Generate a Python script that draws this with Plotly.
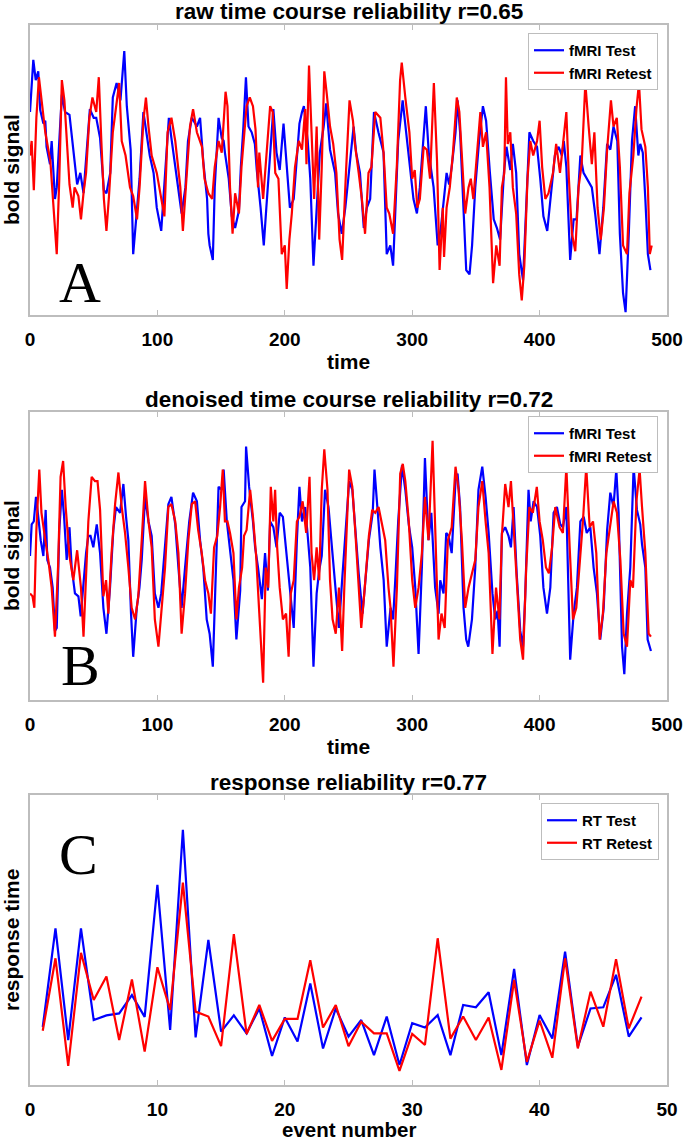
import plotly.graph_objects as go

# ---------------- Panel A: raw time course (values in arbitrary units, 0-100) ----------------
a_test_t = [0, 2.6, 4.5, 6.5, 8, 10.5, 12, 13, 15.7, 17, 19.6, 21, 25, 27.5, 31, 33, 35, 37, 39.5, 42, 44.5, 47, 50, 52, 55,
            58, 60, 63, 65, 68, 71, 74, 76, 79, 81, 84, 86, 89, 92, 94, 97, 99.5, 103, 106, 109, 111, 114, 116.5, 119,
            122, 124, 127, 131, 133.5, 136, 139, 140, 141, 143.5, 145, 148, 150.5, 152, 153, 156, 158.4, 161, 164, 165.5,
            167.5, 169.5, 171.5, 174, 176.5, 178, 181, 183.5, 185.5, 188.5, 191, 193.5, 196, 199, 201.5, 204, 207, 209.5,
            211.5, 213.5, 215, 218, 220, 222.5, 225, 227.5, 230.5, 232.5, 235.5, 239.5, 241.8, 244.7, 247.5, 251, 254,
            256, 259, 262, 264.4, 267, 270, 273.5, 277.5, 280, 282.8, 285, 286.7, 289, 292.5, 295.8, 298.3, 301, 303.7,
            306, 310.7, 313, 316.8, 320, 322.5, 325, 327, 329, 331, 334, 335.6, 337.6, 340, 342.4, 345, 347, 349.5, 352.5,
            355.5, 358, 361, 364, 366.5, 369, 372, 374, 377, 379, 381.6, 384, 387, 389.5, 392, 395, 398, 400.5, 403, 406,
            409.5, 412, 414.9, 417.5, 419, 421, 424, 426.7, 429, 432, 434.5, 437, 441, 443.6, 447, 450, 453, 455.5, 458,
            461, 463, 465.5, 467.5, 470, 472.5, 475, 477.5, 479, 481, 483, 485, 487]
a_test_v = [70, 88, 81, 84, 70.7, 66, 67, 58, 52, 60, 40, 44, 76, 70, 69, 60, 53, 45, 49, 42, 57, 71, 68, 68, 61,
            43, 42, 49, 75, 80, 74, 91, 72, 57, 21, 35, 47, 70, 60, 55, 49, 37, 29, 48, 68, 61, 51, 44, 35,
            44, 60, 68, 65, 68, 53, 40, 28, 24, 19, 44, 68, 61, 60, 56, 47, 34, 30, 36, 51,
            65, 82, 65, 63, 59, 50, 37, 24, 37, 55, 71, 56, 50, 66, 51, 37, 40, 55,
            66, 70, 72, 60, 47, 17, 35, 56, 65, 73, 57, 49, 35, 28, 37, 53, 65,
            56, 49, 30, 37, 40, 70, 63, 56, 21, 24, 17, 37, 60, 74, 60, 50, 40, 35,
            44, 72, 56, 44, 24, 30, 42, 49, 45, 51, 63, 74, 63, 40, 15.5, 14, 24, 44, 60,
            72, 67, 49, 33, 30, 26, 49, 58, 50, 59, 49, 21, 12, 37, 63, 60, 58, 47, 34, 29,
            44, 55, 58, 55, 60, 51, 19, 33, 33, 55, 49, 47, 44, 35, 21, 37, 59, 57, 65,
            60, 28, 7.5, 1, 28, 60, 72, 55, 59, 56, 40, 21, 15.5]

a_retest_t = [0, 1.3, 3, 5, 7, 9, 12, 16, 18, 21, 23, 25, 27, 29, 31, 33.5, 35, 38, 40, 42, 44, 46.6, 49, 52, 54, 56, 58,
              60, 62, 65, 68, 70, 72, 75, 78.5, 81, 84, 86, 89, 91, 93, 95.5, 99.5, 103, 105.5, 108, 111, 114, 118, 120,
              123, 125.6, 128, 131, 135, 137, 140, 143, 145, 148, 150.5, 152, 153.5, 155, 157, 159, 161, 164, 166, 170,
              172.5, 175, 177, 179, 180, 183, 186, 188.5, 190.5, 192.5, 195, 197.6, 200, 201.5, 203.6, 205.5, 208, 211,
              213.5, 216, 217, 219, 221, 223, 225, 227, 229, 231, 233, 235.5, 238, 240.5, 243, 245, 248, 250.8, 253.5,
              255, 258, 260.5, 263, 265.7, 268, 271, 275, 277.5, 280, 282, 285, 288, 290.5, 291.8, 294.6, 297.8, 300,
              302, 304, 306, 309, 311.5, 314, 317, 319.5, 321.5, 324, 325, 327, 329.5, 332, 335, 337, 340, 341.6, 344.2,
              346, 348, 351, 353.5, 355.5, 358, 360.7, 363.5, 366, 368.6, 370.4, 372.3, 373.6, 375, 377, 379, 381.6, 384,
              386, 388, 390.5, 392.7, 395, 398, 400, 402, 404.5, 407, 410.5, 413, 416, 418.9, 421, 423, 425.4, 428,
              430.6, 433, 435.9, 438.5, 441, 443, 445.5, 448, 450.5, 453, 456, 458, 460.6, 463, 465.5, 468.6, 470.5,
              473.6, 476, 478, 480, 483, 485, 486.5, 488]
a_retest_v = [55, 60, 43, 68, 82, 74, 63, 53, 40, 21, 47, 81, 74, 60, 45, 37, 44, 41, 33, 42, 49, 68, 75, 70, 82, 60, 40,
              29, 41, 63, 74, 80, 60, 55, 44, 41, 33, 44, 67, 75, 65, 55, 49, 40, 34, 63, 68, 60, 44, 29,
              47, 65, 71, 63, 58, 47, 42, 40, 51, 60, 56, 67, 77, 72, 44, 28, 42, 35, 51, 72,
              75, 72, 64, 44, 56, 40, 58, 72, 70, 49, 47, 21, 24, 9, 26, 35, 51, 60,
              57, 71, 52, 86, 63, 40, 65, 26, 51, 84, 76, 65, 59, 49, 26, 19, 49, 74, 67,
              59, 49, 40, 28, 49, 51, 70, 68, 56, 37, 35, 28, 52, 81, 87, 75, 63, 47,
              50, 37, 40, 58, 57, 47, 80, 53, 15.5, 37, 20, 37, 44, 56, 75, 70, 45, 35, 44,
              47, 40, 56, 70, 58, 63, 44, 11, 24, 17, 44, 49, 82, 59, 63, 44, 35, 14,
              5, 17, 47, 60, 55, 60, 67, 51, 40, 42, 49, 59, 49, 60, 70, 47, 28, 22,
              44, 52, 80, 65, 52, 63, 37, 26, 37, 57, 74, 65, 68, 51, 24, 21, 42,
              55, 71, 80, 64, 58, 44, 21, 24]

# ---------------- Panel B: denoised time course ----------------
b_test_t = [0, 1.3, 3, 4.7, 6.5, 8.4, 10.5, 12.3, 13.6, 15.7, 17.8, 19.6, 21, 23, 25, 26.7, 28.8, 31, 32.7, 35.3, 38, 39.8,
            42, 44, 45.8, 47.5, 49.7, 52.4, 55, 57.6, 60, 62.8, 65.4, 67.5, 70.7, 73.3, 75.4, 77.2, 79.3, 81, 83.8, 85.9,
            87.7, 90.3, 93, 95.5, 98, 100.8, 103, 106, 108.6, 111, 114, 116.5, 119, 121.7, 125, 128, 131, 133.5, 136,
            138.7, 141, 143.5, 146, 148, 150.5, 152, 154.5, 157, 159.7, 162, 165, 166, 168.8, 169.6, 172, 175, 176.7,
            179, 182, 184.5, 186.7, 188.5, 191, 193.5, 196, 198.5, 201.5, 204, 207, 209.5, 211.5, 213.5, 216, 218, 220,
            222.5, 225, 227, 229, 231.6, 234.3, 237, 240, 242.5, 245, 247.8, 250.5, 253, 255.4, 258, 261, 263.6, 266,
            269, 270.4, 273, 275, 277.6, 280, 283, 285, 286.7, 289, 292, 294.6, 297.3, 300, 302.4, 305, 307.6, 310,
            312.8, 315, 318, 320.7, 322, 324.6, 326.7, 328.5, 331, 334, 335.6, 337.6, 340.3, 342.4, 344, 346.9, 349.5,
            352, 355, 357.6, 360, 363, 365.2, 367, 368.6, 370.4, 373, 375.6, 377.5, 379.6, 382, 384.8, 387, 388.7,
            391.3, 393, 395.3, 398, 400.5, 403, 405.8, 408.4, 411, 413.6, 416.2, 418.3, 421, 424, 426.7, 429.3, 432,
            434.6, 437, 439.8, 442.4, 445, 447.6, 450.3, 453, 455.5, 458, 460.2, 462, 464.7, 466.5, 468.6, 471.2,
            473.8, 476.4, 479, 480.4, 483, 484.8, 487.4]
b_test_v = [50, 61, 62, 70.5, 63.6, 55.5, 50, 66, 48.6, 46, 39, 24, 25, 59, 73, 64, 48.6, 60, 46, 37, 36, 29,
            40.5, 51, 57, 57, 53, 61, 51, 32, 23, 39, 59, 67, 65, 75, 63.6, 55.5, 30, 15, 32, 39,
            48.6, 70.5, 62, 57, 37, 32, 37, 55.5, 68, 70.5, 61, 46, 32, 46, 62, 72, 69, 55.5, 46,
            28, 23, 11.6, 46, 74, 73, 80, 62, 53, 41.6, 21, 38, 67, 69, 88, 74, 62, 53,
            46, 35, 51, 38, 62, 60, 53, 65, 63.6, 50, 37, 25, 55.5, 74, 62, 67, 57, 46,
            11.6, 37, 45, 50, 73, 67, 53, 37, 25, 41.6, 59, 76, 73, 58, 44, 30, 43, 55.5,
            65, 80, 65, 53, 41.6, 18.5, 32, 28, 41.6, 62, 81.5, 73, 61, 53, 39, 16, 46, 84,
            55.5, 65, 39, 30, 41.6, 37, 58, 57, 51, 76, 78.6, 67, 32, 21, 18.5, 28, 46,
            73, 81, 70.5, 58, 37, 28, 31, 18.5, 58, 60, 57, 53, 67, 44, 24, 18.5, 36,
            73, 62, 69, 67, 57, 39, 30, 39, 65, 67, 61, 60, 67, 14, 30, 39, 62,
            63.6, 58, 60, 46, 37, 21, 32, 59, 72, 67, 80, 65, 18.5, 9, 30, 46,
            81, 66, 61, 54, 46, 21, 17]

b_retest_t = [0, 2, 3.4, 5, 7.3, 9, 12, 14.4, 17, 19.6, 22, 24, 26, 28, 31, 34, 37, 40, 42, 44, 45.8, 48.4, 51, 53, 55,
              57.6, 59.7, 61.5, 64, 66.8, 69.4, 72, 74.6, 77.2, 79.8, 82.5, 85, 87.7, 90.3, 93, 95.5, 98, 100.8, 103,
              106, 108.6, 111, 114, 116.5, 119, 121.7, 124.3, 127, 129.6, 132, 134.8, 137.4, 140, 142, 144.5, 147,
              149.2, 151.3, 153, 155, 157, 159.7, 162, 164, 166.5, 168, 170, 172.8, 175, 177.5, 180, 183, 185, 187,
              189, 191, 192.4, 194, 196, 198.5, 201, 203, 204.7, 207, 209.5, 211.5, 214, 216.8, 219.4, 221, 223, 225,
              227, 229, 231, 233.5, 235.5, 237.5, 240, 242.5, 245, 246.7, 250.5, 253, 255.4, 258, 260, 262.4, 266,
              268.6, 271, 273.6, 276, 278.8, 281.4, 283, 285.3, 288, 290.6, 292.6, 294.6, 297.3, 300, 302.4, 305,
              307.6, 310, 312.8, 316, 318, 320.7, 323, 325.5, 328, 331, 334, 336.4, 339, 341.6, 344.2, 346.9, 349.5,
              352, 355, 357.6, 360, 363, 365.8, 368.4, 370.4, 373, 375.6, 377.5, 379.6, 382, 384.8, 387, 389.5, 392,
              394.7, 397.8, 400, 402.5, 405, 407.3, 409.8, 412.3, 415.7, 418.3, 421, 423.6, 426.2, 428.8, 431.4, 434,
              436.6, 439.3, 441.9, 444.5, 447.1, 449.7, 452.4, 455, 458.1, 460.7, 463.4, 466, 468.6, 471.2, 473.3,
              476, 478.5, 480.4, 483, 485.6, 487.4]
b_retest_v = [37, 36, 32, 59, 80, 65, 55.5, 48.6, 39, 22, 46, 77.5, 83, 67, 50, 41.6, 52, 39, 22, 41.6, 62, 77.5, 76, 76, 66,
              36, 41.6, 30, 51, 68, 79, 67, 58, 46, 32, 28, 36, 55.5, 76, 62, 53, 28, 18.5, 30,
              46, 67, 68, 62, 51, 23, 37, 55.5, 68, 69, 59, 51, 41.6, 37, 30, 53, 57,
              67, 80, 62, 62, 58, 51, 28, 39, 46, 57, 59, 73, 63.6, 50, 30, 6, 46, 39,
              74, 62, 73, 53, 39, 28, 30, 15, 37, 41.6, 62, 63.6, 69, 58, 77.5, 51, 41.6, 53,
              41.6, 73, 87, 73, 41.6, 28, 23, 39, 17, 39, 80, 74, 58, 39, 25, 37, 57,
              66, 65, 67, 62, 55.5, 39, 32, 11.6, 39, 78.6, 82, 76, 62, 41.6, 32, 39,
              51, 70.5, 55.5, 90, 59, 21, 30, 25, 55.5, 60, 81, 73, 55.5, 32, 39, 44, 48.6,
              67, 76, 62, 51, 16, 39, 28, 57, 75, 67, 76, 60, 39, 21, 14, 46, 67,
              65, 74, 62, 55.5, 46, 44, 53, 67, 60, 58, 81, 53, 28, 32, 46, 62,
              81, 60, 62, 51, 21, 30, 51, 60, 69, 65, 48.6, 23, 18.5, 41.6, 39,
              69, 80, 67, 51, 23, 22]

# ---------------- Panel C: response times ----------------
event_number = list(range(1, 49))
rt_test = [20, 54, 15.5, 54, 22.4, 24, 24.7, 31, 23.5, 69, 19, 88, 16.4, 50, 18.4, 24, 17.8, 26.4, 10, 23.3, 15, 35, 12.6,
           26.4, 16.7, 22.4, 10.3, 23.6, 6.9, 21.3, 19.8, 24.1, 10.3, 27.6, 26.8, 32, 10.3, 40, 6.9, 24.1, 16, 46, 13.2,
           26.4, 26.8, 38, 16.7, 23.3]
rt_retest = [18.7, 43.7, 6.6, 45.6, 29.3, 37.4, 15.5, 36.4, 11.5, 40.6, 25.9, 69.8, 25.3, 23.6, 13.4, 52, 17.6, 27.6, 15.2,
             22.8, 22.8, 43, 19.8, 27.6, 13.4, 21.8, 17.8, 17.8, 4.9, 17.6, 13.8, 50.6, 16, 23.6, 15.5, 23.3, 5.2, 36.2, 8,
             22.2, 9.4, 43.7, 12.6, 32.2, 20.1, 43.4, 19.5, 30.5]

titles = ["raw time course reliability r=0.65", "denoised time course reliability r=0.72", "response reliability r=0.77"]
x_titles = ["time", "time", "event number"]
y_titles = ["bold signal", "bold signal", "response time"]
letters = ["A", "B", "C"]
legend_names = [["fMRI Test", "fMRI Retest"], ["fMRI Test", "fMRI Retest"], ["RT Test", "RT Retest"]]
x_ticks = [[0, 100, 200, 300, 400, 500], [0, 100, 200, 300, 400, 500], [0, 10, 20, 30, 40, 50]]

BLUE = "#0000ff"
RED = "#ff0000"
FRAME = "#bdbdbd"
SANS = "Liberation Sans, Arial, sans-serif"

W, H = 685, 1143
ML, MR, MT, MB = 30, 18, 25, 58
# pixel boxes (top, bottom) for each panel
panel_px = [(25, 315), (412, 700), (795, 1085)]
ph = H - MT - MB


def py(p):
    return (H - MB - p) / ph


fig = go.Figure()
series = [
    (a_test_t, a_test_v, a_retest_t, a_retest_v),
    (b_test_t, b_test_v, b_retest_t, b_retest_v),
    (event_number, rt_test, event_number, rt_retest),
]
legend_ids = ["legend", "legend2", "legend3"]
for i, (tx, tv, rx, rv) in enumerate(series):
    ax = "" if i == 0 else str(i + 1)
    fig.add_trace(go.Scatter(x=tx, y=tv, mode="lines", name=legend_names[i][0],
                             line=dict(color=BLUE, width=2.2), xaxis="x" + ax, yaxis="y" + ax,
                             legend=legend_ids[i]))
    fig.add_trace(go.Scatter(x=rx, y=rv, mode="lines", name=legend_names[i][1],
                             line=dict(color=RED, width=2.2), xaxis="x" + ax, yaxis="y" + ax,
                             legend=legend_ids[i]))

layout = dict(width=W, height=H, margin=dict(l=ML, r=MR, t=MT, b=MB, autoexpand=False),
              paper_bgcolor="white", plot_bgcolor="white", showlegend=True,
              font=dict(family=SANS, color="black"))

annotations = []
legend_right = [658, 658, 659]
legend_top = [33, 416, 803]
for i in range(3):
    ax = "" if i == 0 else str(i + 1)
    top, bot = panel_px[i]
    rng = [0, 500] if i < 2 else [0, 50]
    layout["xaxis" + ax] = dict(range=rng, domain=[0, 1], anchor="y" + ax, showgrid=False, zeroline=False,
                                showline=True, linecolor=FRAME, linewidth=1.5, mirror="ticks",
                                ticks="inside", ticklen=5, tickcolor=FRAME, tickwidth=1.2,
                                tickvals=x_ticks[i], ticktext=[str(v) for v in x_ticks[i]],
                                tickfont=dict(family=SANS, size=19, color="black", weight="bold"),
                                ticklabelstandoff=6, automargin=False)
    layout["yaxis" + ax] = dict(range=[0, 100], domain=[py(bot), py(top)], anchor="x" + ax, showgrid=False,
                                zeroline=False, showline=True, linecolor=FRAME, linewidth=1.5, mirror=True,
                                ticks="", showticklabels=False, automargin=False)
    layout[legend_ids[i]] = dict(x=(legend_right[i] - ML) / (W - ML - MR), xanchor="right",
                                 y=py(legend_top[i]), yanchor="top", bgcolor="white",
                                 bordercolor=FRAME, borderwidth=1, itemwidth=30,
                                 font=dict(family=SANS, size=15, color="black", weight="bold"),
                                 tracegroupgap=0)
    # panel title
    annotations.append(dict(text=titles[i], xref="paper", yref="paper", x=0.5, y=py(top - 13),
                            xanchor="center", yanchor="middle", showarrow=False,
                            font=dict(family=SANS, size=22.5, color="black", weight="bold")))
    # x-axis title
    annotations.append(dict(text=x_titles[i], xref="paper", yref="paper", x=0.5,
                            y=py(bot + (46 if i < 2 else 44)),
                            xanchor="center", yanchor="middle", showarrow=False,
                            font=dict(family=SANS, size=21 if i < 2 else 20.5, color="black", weight="bold")))
    # y-axis title
    annotations.append(dict(text=y_titles[i], xref="paper", yref="paper", x=(11 - ML) / (W - ML - MR),
                            y=py((top + bot) / 2), xanchor="center", yanchor="middle", showarrow=False,
                            textangle=-90,
                            font=dict(family=SANS, size=21, color="black", weight="bold")))

letter_pos = [(80, 285), (80, 668), (78, 857)]
for i in range(3):
    lx, ly = letter_pos[i]
    annotations.append(dict(text=letters[i], xref="paper", yref="paper", x=(lx - ML) / (W - ML - MR),
                            y=py(ly - 2), xanchor="center", yanchor="middle", showarrow=False,
                            font=dict(family="Liberation Serif, DejaVu Serif, serif", size=58, color="black")))

layout["annotations"] = annotations
fig.update_layout(**layout)
fig.write_html("out.html", config={"displayModeBar": False},
               post_script="document.body.style.margin='0';document.body.style.overflow='hidden';")
